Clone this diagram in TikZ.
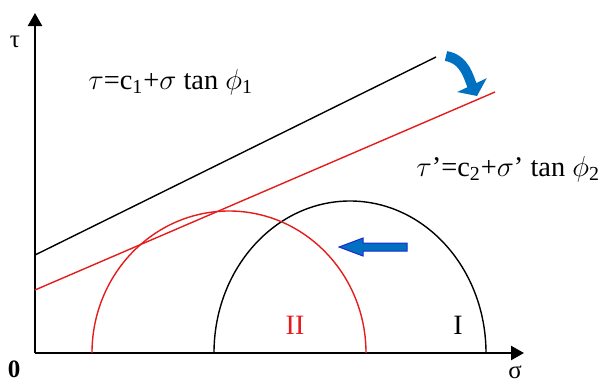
\documentclass[tikz,border=0pt]{standalone}
\usepackage{fontspec}
\setmainfont{Liberation Serif}
\usetikzlibrary{arrows.meta}
\definecolor{envred}{RGB}{228,28,28}
\definecolor{arrowblue}{RGB}{0,112,192}
\definecolor{arrowedge}{RGB}{30,40,205}

\begin{document}
\begin{tikzpicture}[x=0.5pt, y=0.5pt, >=Stealth,
    axis/.style={-{Triangle[length=6.5pt,width=7pt]}, line width=1.2pt},
    envline/.style={line width=0.7pt},
    mohr/.style={line width=0.7pt},
    eqn/.style={font=\fontsize{14.2}{17}\selectfont, inner sep=0pt},
    lbl/.style={font=\fontsize{12.5}{15}\selectfont, inner sep=0pt},
    bluearr/.style={line width=5pt, arrowblue,
                    -{Triangle[length=6pt,width=16pt]}}]

  \useasboundingbox (0,0) rectangle (606,382);

  %% Axes
  \coordinate (O) at (35,29);
  \coordinate (ytip) at (35,369);
  \coordinate (xtip) at (524,29);
  \draw[axis] (O) -- (ytip);
  \draw[axis] (O) -- (xtip);
  \node[lbl] (tau) at (15,340) {τ};
  \node[lbl, font=\fontsize{12.5}{15}\selectfont\bfseries] (zero) at (14,13) {0};
  \node[lbl] (sigma) at (515,10) {σ};

  %% ── Strength envelopes ───────────────────────────────────
  \draw[envline] (35,127) -- (436,325);
  \draw[envline, envred] (35,92) -- (495,290);
  \node[eqn, anchor=base west] (eqone) at (88,293)
    {$\tau$=c\textsubscript{1}+$\sigma$ tan $\phi$\textsubscript{1}};
  \node[eqn, anchor=base west] (eqtwo) at (416,206)
    {$\tau$’=c\textsubscript{2}+$\sigma$’ tan $\phi$\textsubscript{2}};

  %% ── Mohr circles ─────────────────────────────────────────
  \draw[mohr] (214,29) arc[start angle=180, end angle=0, x radius=136, y radius=152];
  \draw[mohr, envred] (92,29) arc[start angle=180, end angle=0, x radius=137, y radius=142];
  \node[lbl, font=\fontsize{14}{16}\selectfont, envred] (two) at (295,57) {II};
  \node[lbl, font=\fontsize{14}{16}\selectfont] (one) at (458,57) {I};

  %% Blue arrows
  \draw[bluearr] (446,326) to[out=-10, in=115] (477,286);
  \filldraw[fill=arrowblue, draw=arrowedge, line width=0.5pt]
    (407,139) -- (363,139) -- (363,144) -- (339,135) -- (363,126)
    -- (363,131) -- (407,131) -- cycle;

\end{tikzpicture}
\end{document}
